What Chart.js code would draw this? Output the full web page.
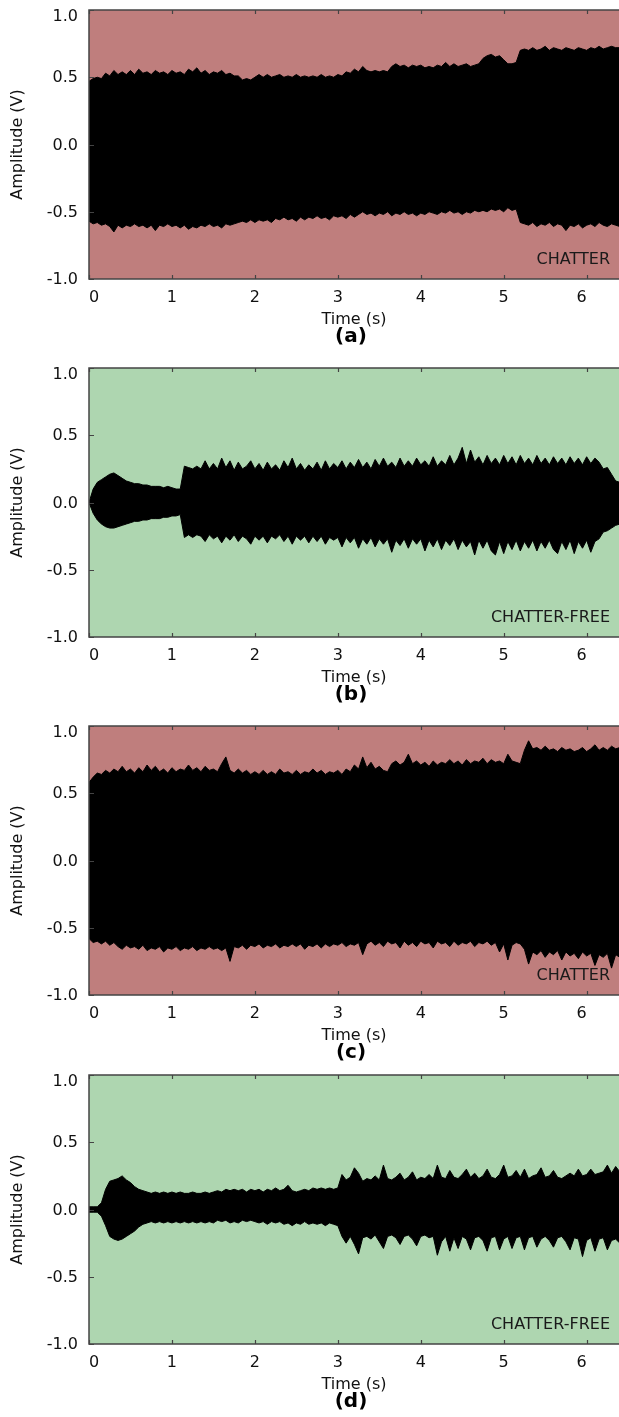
<!DOCTYPE html>
<html>
<head>
<meta charset="utf-8">
<title>Amplitude (V) vs Time (s)</title>
<script src="https://cdn.jsdelivr.net/npm/chart.js@4.4.1/dist/chart.umd.min.js"></script>
<style>
  html, body { margin: 0; padding: 0; background: #fff; overflow: hidden; }
  .panel { position: absolute; left: 0; width: 619px; height: 358px; }
</style>
</head>
<body>
<div class="panel" style="top:0px"><canvas id="chartA" width="619" height="358"></canvas></div>
<div class="panel" style="top:358px"><canvas id="chartB" width="619" height="358"></canvas></div>
<div class="panel" style="top:716px"><canvas id="chartC" width="619" height="358"></canvas></div>
<div class="panel" style="top:1065px"><canvas id="chartD" width="619" height="358"></canvas></div>

<script>
// envelope samples every 0.05 s, from 0.00 s to 6.40 s (129 per edge)
const sampleStep = 0.05;
const xTicks = [0, 1, 2, 3, 4, 5, 6];
const yTicks = [-1.0, -0.5, 0.0, 0.5, 1.0];

// (a) chatter
const upperA = [
  0.47,0.49,0.50,0.49,0.53,0.51,0.55,0.52,0.54,0.52, 0.55,0.52,0.56,0.53,0.54,0.52,0.55,0.53,0.54,0.52,
  0.55,0.53,0.54,0.52,0.56,0.54,0.57,0.53,0.55,0.52, 0.54,0.53,0.55,0.52,0.53,0.51,0.51,0.48,0.49,0.48,
  0.50,0.52,0.50,0.52,0.50,0.51,0.52,0.50,0.51,0.50, 0.52,0.50,0.51,0.50,0.51,0.50,0.52,0.50,0.51,0.50,
  0.52,0.51,0.54,0.53,0.56,0.54,0.58,0.55,0.54,0.55, 0.54,0.55,0.54,0.58,0.60,0.58,0.59,0.57,0.59,0.58,
  0.59,0.57,0.58,0.57,0.59,0.58,0.61,0.58,0.60,0.58, 0.59,0.60,0.58,0.59,0.60,0.64,0.66,0.67,0.65,0.66,
  0.63,0.60,0.60,0.61,0.70,0.71,0.70,0.72,0.70,0.71, 0.73,0.70,0.72,0.71,0.70,0.72,0.71,0.70,0.72,0.71,
  0.70,0.72,0.71,0.73,0.71,0.72,0.73,0.72,0.72
];
const lowerA = [
  -0.57,-0.59,-0.58,-0.60,-0.59,-0.61,-0.65,-0.60,-0.62,-0.60, -0.61,-0.59,-0.61,-0.60,-0.62,-0.60,-0.64,-0.60,-0.61,-0.59,
  -0.61,-0.60,-0.62,-0.60,-0.63,-0.61,-0.62,-0.60,-0.61,-0.59, -0.61,-0.60,-0.62,-0.59,-0.60,-0.59,-0.58,-0.57,-0.58,-0.56,
  -0.58,-0.56,-0.57,-0.56,-0.58,-0.55,-0.56,-0.54,-0.56,-0.55, -0.57,-0.54,-0.56,-0.54,-0.55,-0.53,-0.55,-0.54,-0.56,-0.53,
  -0.54,-0.53,-0.55,-0.52,-0.54,-0.52,-0.50,-0.52,-0.51,-0.53, -0.51,-0.52,-0.50,-0.53,-0.51,-0.52,-0.50,-0.52,-0.51,-0.53,
  -0.51,-0.52,-0.50,-0.51,-0.52,-0.50,-0.51,-0.49,-0.51,-0.50, -0.52,-0.50,-0.51,-0.49,-0.50,-0.49,-0.50,-0.48,-0.49,-0.48,
  -0.50,-0.47,-0.49,-0.48,-0.58,-0.59,-0.60,-0.58,-0.61,-0.59, -0.60,-0.58,-0.61,-0.59,-0.60,-0.64,-0.60,-0.61,-0.59,-0.62,
  -0.60,-0.59,-0.61,-0.58,-0.60,-0.61,-0.59,-0.60,-0.61
];

// (b) chatter-free
const upperB = [
  0.00,0.10,0.15,0.17,0.19,0.21,0.22,0.20,0.18,0.16, 0.15,0.14,0.14,0.13,0.13,0.12,0.12,0.12,0.11,0.12,
  0.11,0.10,0.10,0.27,0.26,0.25,0.27,0.25,0.31,0.25, 0.29,0.25,0.33,0.26,0.31,0.24,0.30,0.25,0.27,0.31,
  0.25,0.29,0.24,0.30,0.25,0.28,0.24,0.31,0.26,0.33, 0.25,0.29,0.24,0.28,0.25,0.30,0.24,0.31,0.25,0.29,
  0.26,0.31,0.25,0.30,0.26,0.32,0.26,0.30,0.25,0.32, 0.27,0.33,0.27,0.30,0.26,0.33,0.27,0.31,0.27,0.33,
  0.28,0.31,0.27,0.34,0.27,0.31,0.28,0.35,0.28,0.33, 0.41,0.29,0.39,0.30,0.34,0.28,0.35,0.29,0.33,0.28,
  0.35,0.29,0.34,0.28,0.35,0.29,0.33,0.28,0.35,0.29, 0.33,0.28,0.34,0.29,0.33,0.28,0.34,0.29,0.33,0.28,
  0.34,0.29,0.33,0.30,0.25,0.26,0.21,0.16,0.15
];
const lowerB = [
  0.00,-0.08,-0.13,-0.16,-0.18,-0.19,-0.19,-0.18,-0.17,-0.16, -0.15,-0.14,-0.14,-0.13,-0.13,-0.12,-0.12,-0.12,-0.11,-0.11,
  -0.10,-0.10,-0.09,-0.26,-0.24,-0.26,-0.24,-0.25,-0.29,-0.24, -0.27,-0.25,-0.30,-0.25,-0.28,-0.24,-0.29,-0.25,-0.27,-0.31,
  -0.25,-0.28,-0.25,-0.30,-0.25,-0.27,-0.24,-0.29,-0.25,-0.31, -0.25,-0.28,-0.25,-0.30,-0.25,-0.29,-0.25,-0.31,-0.26,-0.28,
  -0.26,-0.33,-0.26,-0.30,-0.26,-0.34,-0.27,-0.31,-0.26,-0.33, -0.27,-0.31,-0.27,-0.37,-0.28,-0.32,-0.27,-0.34,-0.27,-0.31,
  -0.27,-0.36,-0.28,-0.33,-0.27,-0.35,-0.28,-0.32,-0.27,-0.35, -0.28,-0.33,-0.29,-0.39,-0.28,-0.34,-0.28,-0.36,-0.39,-0.29,
  -0.38,-0.29,-0.35,-0.28,-0.36,-0.29,-0.34,-0.28,-0.36,-0.29, -0.34,-0.28,-0.35,-0.38,-0.29,-0.35,-0.28,-0.38,-0.29,-0.34,
  -0.28,-0.37,-0.29,-0.27,-0.22,-0.21,-0.19,-0.17,-0.16
];

// (c) chatter
const upperC = [
  0.58,0.62,0.65,0.64,0.67,0.65,0.68,0.66,0.70,0.66, 0.68,0.65,0.69,0.66,0.71,0.67,0.70,0.66,0.68,0.65,
  0.69,0.66,0.68,0.67,0.71,0.67,0.69,0.66,0.70,0.67, 0.68,0.66,0.72,0.77,0.67,0.65,0.68,0.65,0.67,0.64,
  0.66,0.64,0.67,0.64,0.66,0.64,0.68,0.65,0.66,0.64, 0.67,0.64,0.66,0.65,0.68,0.65,0.67,0.64,0.66,0.65,
  0.67,0.64,0.68,0.66,0.71,0.68,0.77,0.69,0.73,0.68, 0.70,0.67,0.66,0.72,0.74,0.71,0.73,0.79,0.72,0.74,
  0.71,0.73,0.70,0.74,0.71,0.73,0.72,0.75,0.72,0.74, 0.71,0.75,0.72,0.74,0.73,0.76,0.72,0.75,0.73,0.74,
  0.72,0.79,0.74,0.73,0.72,0.82,0.89,0.83,0.84,0.82, 0.85,0.82,0.83,0.81,0.84,0.82,0.83,0.81,0.82,0.84,
  0.81,0.83,0.86,0.82,0.84,0.82,0.85,0.83,0.84
];
const lowerC = [
  -0.58,-0.61,-0.60,-0.62,-0.60,-0.63,-0.61,-0.64,-0.66,-0.63, -0.65,-0.64,-0.66,-0.63,-0.67,-0.65,-0.66,-0.64,-0.68,-0.65,
  -0.66,-0.64,-0.67,-0.65,-0.66,-0.64,-0.67,-0.65,-0.66,-0.64, -0.66,-0.65,-0.67,-0.65,-0.75,-0.64,-0.65,-0.63,-0.66,-0.63,
  -0.64,-0.62,-0.65,-0.63,-0.64,-0.62,-0.65,-0.63,-0.64,-0.62, -0.64,-0.62,-0.66,-0.63,-0.64,-0.62,-0.65,-0.62,-0.64,-0.62,
  -0.63,-0.61,-0.64,-0.62,-0.63,-0.61,-0.70,-0.62,-0.60,-0.63, -0.61,-0.64,-0.60,-0.62,-0.61,-0.65,-0.60,-0.63,-0.61,-0.64,
  -0.60,-0.62,-0.61,-0.65,-0.60,-0.62,-0.61,-0.64,-0.60,-0.63, -0.61,-0.62,-0.60,-0.64,-0.61,-0.62,-0.60,-0.63,-0.61,-0.68,
  -0.62,-0.74,-0.63,-0.61,-0.62,-0.66,-0.77,-0.68,-0.70,-0.67, -0.72,-0.68,-0.70,-0.67,-0.74,-0.68,-0.71,-0.69,-0.73,-0.68,
  -0.71,-0.69,-0.78,-0.70,-0.72,-0.69,-0.80,-0.70,-0.72
];

// (d) chatter-free
const upperD = [
  0.02,0.02,0.02,0.05,0.15,0.21,0.22,0.23,0.25,0.22, 0.20,0.17,0.15,0.14,0.13,0.12,0.13,0.12,0.13,0.12,
  0.13,0.12,0.13,0.12,0.12,0.13,0.12,0.12,0.13,0.12, 0.13,0.14,0.13,0.15,0.14,0.15,0.14,0.15,0.13,0.15,
  0.14,0.15,0.13,0.15,0.14,0.16,0.14,0.15,0.18,0.14, 0.13,0.14,0.15,0.14,0.16,0.15,0.16,0.15,0.16,0.15,
  0.16,0.26,0.22,0.24,0.31,0.27,0.21,0.23,0.22,0.25, 0.22,0.33,0.23,0.22,0.24,0.27,0.22,0.24,0.28,0.22,
  0.24,0.23,0.26,0.23,0.33,0.24,0.23,0.29,0.24,0.23, 0.26,0.30,0.24,0.27,0.23,0.25,0.30,0.24,0.23,0.26,
  0.33,0.24,0.25,0.29,0.24,0.30,0.23,0.25,0.26,0.31, 0.24,0.25,0.29,0.24,0.23,0.25,0.27,0.25,0.30,0.25,
  0.26,0.30,0.26,0.27,0.28,0.33,0.27,0.32,0.28
];
const lowerD = [
  -0.02,-0.02,-0.02,-0.05,-0.12,-0.20,-0.22,-0.23,-0.22,-0.20, -0.18,-0.16,-0.13,-0.11,-0.10,-0.09,-0.10,-0.09,-0.10,-0.09,
  -0.10,-0.09,-0.10,-0.09,-0.10,-0.09,-0.10,-0.09,-0.10,-0.09, -0.10,-0.08,-0.09,-0.08,-0.10,-0.09,-0.10,-0.08,-0.09,-0.08,
  -0.09,-0.10,-0.09,-0.11,-0.09,-0.10,-0.09,-0.11,-0.10,-0.12, -0.10,-0.11,-0.09,-0.11,-0.10,-0.11,-0.10,-0.12,-0.10,-0.11,
  -0.12,-0.20,-0.25,-0.20,-0.26,-0.33,-0.21,-0.20,-0.22,-0.19, -0.24,-0.29,-0.20,-0.19,-0.21,-0.26,-0.20,-0.19,-0.22,-0.27,
  -0.20,-0.19,-0.21,-0.20,-0.34,-0.24,-0.20,-0.31,-0.21,-0.29, -0.20,-0.22,-0.30,-0.21,-0.20,-0.23,-0.31,-0.21,-0.20,-0.30,
  -0.22,-0.20,-0.29,-0.21,-0.20,-0.30,-0.21,-0.20,-0.28,-0.22, -0.20,-0.23,-0.28,-0.21,-0.20,-0.24,-0.30,-0.21,-0.22,-0.35,
  -0.23,-0.21,-0.31,-0.22,-0.21,-0.30,-0.23,-0.22,-0.25
];

const CHATTER_BG = "#bf7e7d";
const STABLE_BG = "#aed6b0";

const panels = [
  { canvas: "chartA", upper: upperA, lower: lowerA, bg: CHATTER_BG, state: "CHATTER", caption: "(a)" },
  { canvas: "chartB", upper: upperB, lower: lowerB, bg: STABLE_BG, state: "CHATTER-FREE", caption: "(b)" },
  { canvas: "chartC", upper: upperC, lower: lowerC, bg: CHATTER_BG, state: "CHATTER", caption: "(c)" },
  { canvas: "chartD", upper: upperD, lower: lowerD, bg: STABLE_BG, state: "CHATTER-FREE", caption: "(d)" },
];

Chart.defaults.font.family = "'DejaVu Sans'";
Chart.defaults.font.size = 16;
Chart.defaults.color = "#111";

// coloured plot background, frame with inward ticks, y labels and panel texts
const panelDecor = {
  id: "panelDecor",
  beforeDraw(chart, args, opts) {
    const { ctx, chartArea: a } = chart;
    ctx.save();
    ctx.fillStyle = opts.background;
    ctx.fillRect(a.left, a.top, a.right - a.left, a.bottom - a.top);
    ctx.restore();
  },
  afterDraw(chart, args, opts) {
    const { ctx, chartArea: a, scales } = chart;
    ctx.save();

    ctx.strokeStyle = "#444";
    ctx.lineWidth = 1.5;
    ctx.beginPath();
    ctx.moveTo(a.right + 2, a.top);
    ctx.lineTo(a.left, a.top);
    ctx.lineTo(a.left, a.bottom);
    ctx.lineTo(a.right + 2, a.bottom);
    ctx.stroke();

    ctx.lineWidth = 1.2;
    ctx.beginPath();
    xTicks.forEach((v) => {
      const px = Math.round(scales.x.getPixelForValue(v)) + 0.5;
      ctx.moveTo(px, a.top);
      ctx.lineTo(px, a.top + 4);
      ctx.moveTo(px, a.bottom);
      ctx.lineTo(px, a.bottom - 4);
    });
    yTicks.forEach((v) => {
      const py = Math.round(scales.y.getPixelForValue(v)) + 0.5;
      ctx.moveTo(a.left, py);
      ctx.lineTo(a.left + 5, py);
    });
    ctx.stroke();

    // y tick labels, the top one kept inside the frame
    ctx.fillStyle = "#111";
    ctx.font = "16px 'DejaVu Sans'";
    ctx.textAlign = "right";
    ctx.textBaseline = "middle";
    yTicks.forEach((v) => {
      const py = Math.max(scales.y.getPixelForValue(v) + 1, a.top + 7);
      ctx.fillText(v.toFixed(1), a.left - 11, py);
    });

    ctx.fillStyle = "#1a1a1a";
    ctx.fillText(opts.state, a.right - 9, a.bottom - 19);

    ctx.font = "bold 20px 'DejaVu Sans'";
    ctx.textAlign = "center";
    ctx.fillStyle = "#000";
    ctx.fillText(opts.caption, a.left + 262, a.bottom + 58);
    ctx.restore();
  },
};

function makePanel(p) {
  const toPoints = (values) => values.map((v, i) => ({ x: i * sampleStep, y: v }));

  return new Chart(document.getElementById(p.canvas), {
    type: "line",
    data: {
      datasets: [
        {
          data: toPoints(p.upper),
          borderColor: "#000",
          borderWidth: 1,
          pointRadius: 0,
          fill: false,
        },
        {
          data: toPoints(p.lower),
          borderColor: "#000",
          borderWidth: 1,
          pointRadius: 0,
          backgroundColor: "#000",
          fill: "-1",
        },
      ],
    },
    options: {
      responsive: false,
      animation: false,
      devicePixelRatio: 1,
      layout: { padding: { top: 10, bottom: 29, left: 0, right: 0 } },
      plugins: {
        legend: { display: false },
        tooltip: { enabled: false },
        panelDecor: { background: p.bg, state: p.state, caption: p.caption },
      },
      scales: {
        x: {
          type: "linear",
          min: 0,
          max: 6.39,
          grid: { display: false, drawTicks: false },
          border: { display: false },
          ticks: { align: "inner", padding: 9, color: "#111" },
          title: { display: true, text: "Time (s)", padding: { top: 0, bottom: 0 }, color: "#111" },
          afterBuildTicks: (axis) => {
            axis.ticks = xTicks.map((value) => ({ value }));
          },
          afterFit: (axis) => {
            axis.height = 50;
          },
        },
        y: {
          min: -1,
          max: 1,
          grid: { display: false, drawTicks: false },
          border: { display: false },
          ticks: { display: false },
          title: { display: true, text: "Amplitude (V)", padding: { top: 8, bottom: 0 }, color: "#111" },
          afterBuildTicks: (axis) => {
            axis.ticks = yTicks.map((value) => ({ value }));
          },
          afterFit: (axis) => {
            axis.width = 89;
          },
        },
      },
    },
    plugins: [panelDecor],
  });
}

panels.forEach(makePanel);
</script>
</body>
</html>
